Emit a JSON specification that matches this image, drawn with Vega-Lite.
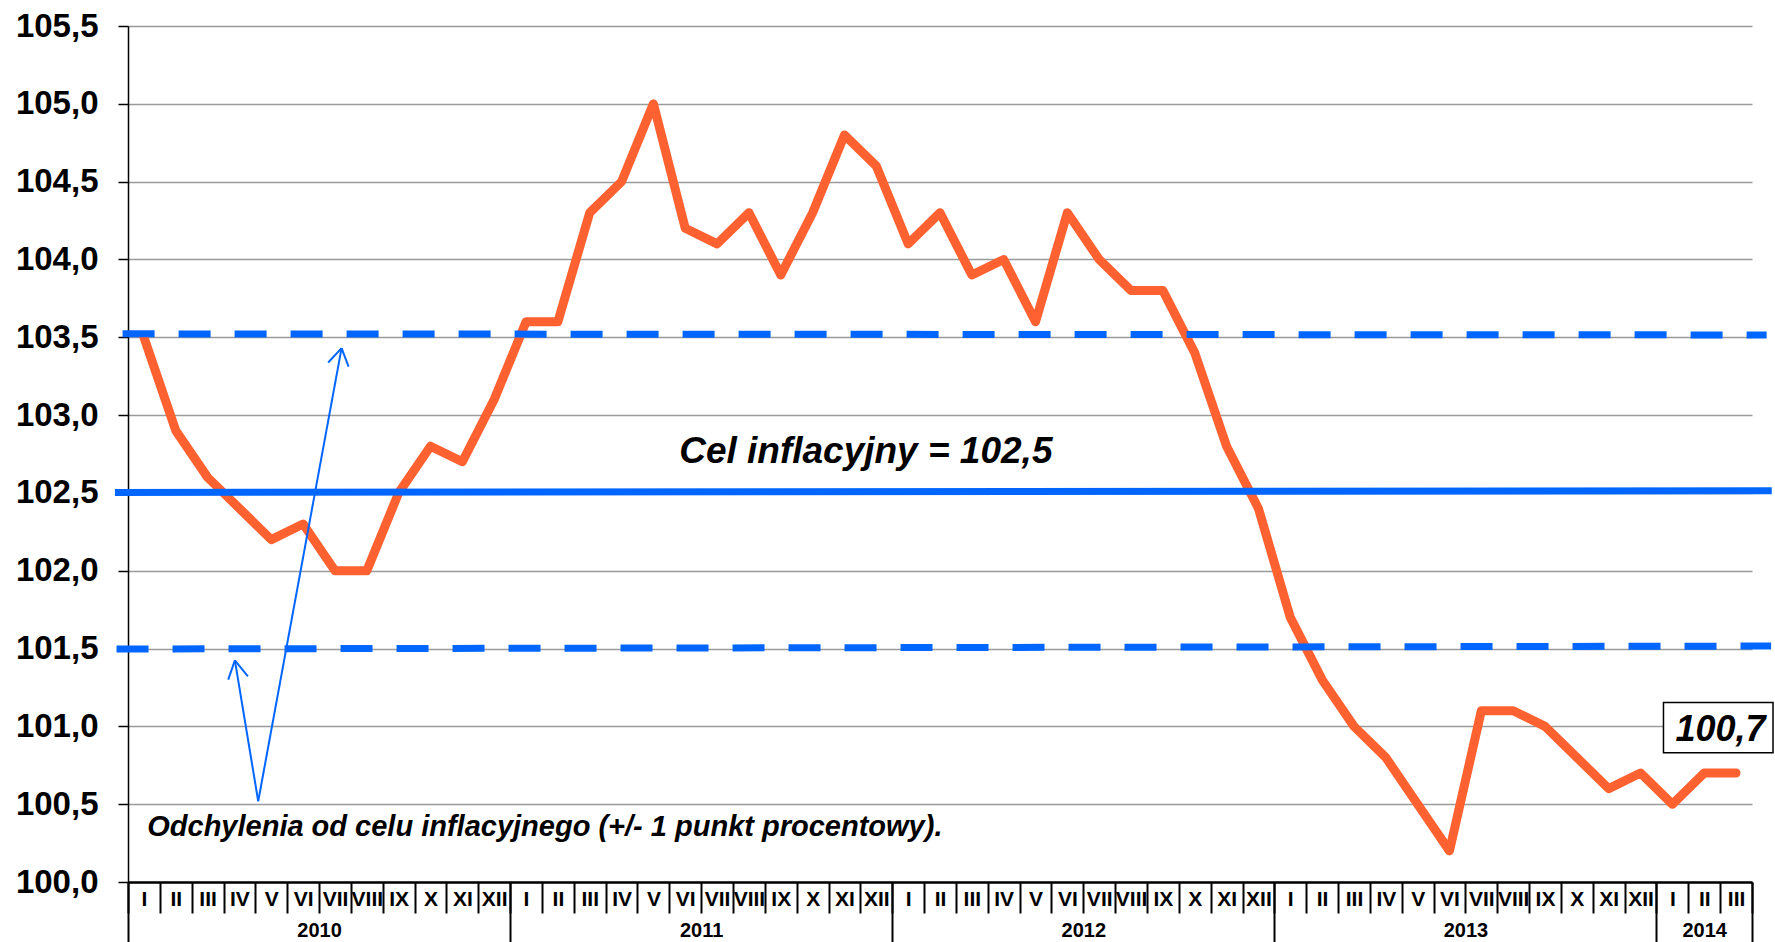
{
  "$schema": "https://vega.github.io/schema/vega-lite/v6.json",
  "width": 1624,
  "height": 856,
  "autosize": {"type": "none"},
  "padding": {"left": 128, "top": 26, "right": 23, "bottom": 60},
  "background": "white",
  "config": {"view": {"stroke": null}},
  "resolve": {"axis": {"x": "independent", "y": "independent"}},
  "layer": [
    {
      "data": {"values": [
        {"i": 0, "m": "2010-01", "v": 103.5}, {"i": 1, "m": "2010-02", "v": 102.9}, {"i": 2, "m": "2010-03", "v": 102.6},
        {"i": 3, "m": "2010-04", "v": 102.4}, {"i": 4, "m": "2010-05", "v": 102.2}, {"i": 5, "m": "2010-06", "v": 102.3},
        {"i": 6, "m": "2010-07", "v": 102.0}, {"i": 7, "m": "2010-08", "v": 102.0}, {"i": 8, "m": "2010-09", "v": 102.5},
        {"i": 9, "m": "2010-10", "v": 102.8}, {"i": 10, "m": "2010-11", "v": 102.7}, {"i": 11, "m": "2010-12", "v": 103.1},
        {"i": 12, "m": "2011-01", "v": 103.6}, {"i": 13, "m": "2011-02", "v": 103.6}, {"i": 14, "m": "2011-03", "v": 104.3},
        {"i": 15, "m": "2011-04", "v": 104.5}, {"i": 16, "m": "2011-05", "v": 105.0}, {"i": 17, "m": "2011-06", "v": 104.2},
        {"i": 18, "m": "2011-07", "v": 104.1}, {"i": 19, "m": "2011-08", "v": 104.3}, {"i": 20, "m": "2011-09", "v": 103.9},
        {"i": 21, "m": "2011-10", "v": 104.3}, {"i": 22, "m": "2011-11", "v": 104.8}, {"i": 23, "m": "2011-12", "v": 104.6},
        {"i": 24, "m": "2012-01", "v": 104.1}, {"i": 25, "m": "2012-02", "v": 104.3}, {"i": 26, "m": "2012-03", "v": 103.9},
        {"i": 27, "m": "2012-04", "v": 104.0}, {"i": 28, "m": "2012-05", "v": 103.6}, {"i": 29, "m": "2012-06", "v": 104.3},
        {"i": 30, "m": "2012-07", "v": 104.0}, {"i": 31, "m": "2012-08", "v": 103.8}, {"i": 32, "m": "2012-09", "v": 103.8},
        {"i": 33, "m": "2012-10", "v": 103.4}, {"i": 34, "m": "2012-11", "v": 102.8}, {"i": 35, "m": "2012-12", "v": 102.4},
        {"i": 36, "m": "2013-01", "v": 101.7}, {"i": 37, "m": "2013-02", "v": 101.3}, {"i": 38, "m": "2013-03", "v": 101.0},
        {"i": 39, "m": "2013-04", "v": 100.8}, {"i": 40, "m": "2013-05", "v": 100.5}, {"i": 41, "m": "2013-06", "v": 100.2},
        {"i": 42, "m": "2013-07", "v": 101.1}, {"i": 43, "m": "2013-08", "v": 101.1}, {"i": 44, "m": "2013-09", "v": 101.0},
        {"i": 45, "m": "2013-10", "v": 100.8}, {"i": 46, "m": "2013-11", "v": 100.6}, {"i": 47, "m": "2013-12", "v": 100.7},
        {"i": 48, "m": "2014-01", "v": 100.5}, {"i": 49, "m": "2014-02", "v": 100.7}, {"i": 50, "m": "2014-03", "v": 100.7}
      ]},
      "mark": {"type": "line", "color": "#FF6131", "strokeWidth": 9, "strokeJoin": "round", "strokeCap": "round"},
      "encoding": {
        "x": {
          "field": "i", "type": "quantitative",
          "scale": {"domain": [-0.5, 50.5], "nice": false, "zero": false},
          "axis": {
            "orient": "bottom", "title": null, "grid": false,
            "values": [-0.5, 0.5, 1.5, 2.5, 3.5, 4.5, 5.5, 6.5, 7.5, 8.5, 9.5, 10.5, 11.5, 12.5, 13.5, 14.5, 15.5, 16.5, 17.5, 18.5, 19.5, 20.5, 21.5, 22.5, 23.5, 24.5, 25.5, 26.5, 27.5, 28.5, 29.5, 30.5, 31.5, 32.5, 33.5, 34.5, 35.5, 36.5, 37.5, 38.5, 39.5, 40.5, 41.5, 42.5, 43.5, 44.5, 45.5, 46.5, 47.5, 48.5, 49.5, 50.5],
            "domain": true, "domainColor": "black", "domainWidth": 2.5,
            "ticks": true, "tickColor": "black", "tickWidth": 2, "tickSize": 31,
            "labelExpr": "datum.value > 50 ? '' : ['I','II','III','IV','V','VI','VII','VIII','IX','X','XI','XII'][round(datum.value + 0.5) % 12]",
            "labelOffset": 15.92, "labelPadding": -14, "labelBaseline": "middle", "labelAlign": "center",
            "labelFont": "Liberation Sans Narrow, Arial Narrow, Liberation Sans", "labelFontWeight": "bold", "labelFontSize": 21, "labelColor": "black",
            "labelOverlap": false, "labelFlush": false, "labelBound": false
          }
        },
        "y": {
          "field": "v", "type": "quantitative",
          "scale": {"domain": [100, 105.5], "nice": false, "zero": false},
          "axis": {
            "orient": "left", "title": null,
            "values": [100, 100.5, 101, 101.5, 102, 102.5, 103, 103.5, 104, 104.5, 105, 105.5],
            "grid": true, "gridColor": "#9a9a9a", "gridWidth": 1.5,
            "domainColor": "black", "domainWidth": 1.5,
            "tickColor": "black", "tickWidth": 1.5, "tickSize": 10,
            "labelPadding": 20, "labelFont": "Liberation Sans", "labelFontWeight": "bold", "labelFontSize": 33, "labelColor": "black",
            "labelExpr": "replace(format(datum.value, '.1f'), '.', ',')",
            "labelOverlap": false, "labelFlush": false, "labelBound": false
          }
        }
      }
    },
    {
      "data": {"values": [{"x": -0.91, "x2": 51.12, "y": 102.503, "y2": 102.514}]},
      "mark": {"type": "rule", "color": "#0066FF", "strokeWidth": 7},
      "encoding": {
        "x": {
          "field": "x", "type": "quantitative",
          "scale": {"domain": [-0.5, 50.5], "nice": false, "zero": false},
          "axis": {
            "orient": "bottom", "title": null, "grid": false, "domain": false,
            "ticks": false, "tickSize": 0,
            "values": [5.5, 17.5, 29.5, 41.5, 49],
            "labelExpr": "datum.value < 11.5 ? '2010' : datum.value < 23.5 ? '2011' : datum.value < 35.5 ? '2012' : datum.value < 47.5 ? '2013' : '2014'",
            "labelPadding": 48, "labelBaseline": "middle", "labelAlign": "center",
            "labelFont": "Liberation Sans", "labelFontWeight": "bold", "labelFontSize": 20, "labelColor": "black",
            "labelOverlap": false, "labelFlush": false, "labelBound": false
          }
        },
        "x2": {"field": "x2"},
        "y": {"field": "y", "type": "quantitative", "scale": {"domain": [100, 105.5], "nice": false, "zero": false}, "axis": null},
        "y2": {"field": "y2"}
      }
    },
    {
      "data": {"values": [
        {"x": -0.67, "x2": 50.96, "y": 103.522, "y2": 103.515},
        {"x": -0.86, "x2": 51.1, "y": 101.497, "y2": 101.516}
      ]},
      "mark": {"type": "rule", "color": "#0066FF", "strokeWidth": 7, "strokeDash": [32, 24]},
      "encoding": {
        "x": {
          "field": "x", "type": "quantitative",
          "scale": {"domain": [-0.5, 50.5], "nice": false, "zero": false},
          "axis": {
            "orient": "bottom", "title": null, "grid": false, "domain": false, "labels": false,
            "values": [-0.5, 11.5, 23.5, 35.5, 47.5, 50.5],
            "ticks": true, "tickSize": 60, "tickWidth": 2, "tickColor": "black"
          }
        },
        "x2": {"field": "x2"},
        "y": {"field": "y", "type": "quantitative", "scale": {"domain": [100, 105.5], "nice": false, "zero": false}, "axis": null},
        "y2": {"field": "y2"}
      }
    },
    {
      "data": {"values": [
        {"x": 3.589, "y": 100.519, "x2": 2.857, "y2": 101.424},
        {"x": 3.589, "y": 100.519, "x2": 6.207, "y2": 103.430},
        {"x": 2.857, "y": 101.424, "x2": 2.647, "y2": 101.300},
        {"x": 2.857, "y": 101.424, "x2": 3.265, "y2": 101.321},
        {"x": 6.207, "y": 103.430, "x2": 5.787, "y2": 103.338},
        {"x": 6.207, "y": 103.430, "x2": 6.427, "y2": 103.312}
      ]},
      "mark": {"type": "rule", "color": "#0066FF", "strokeWidth": 2},
      "encoding": {
        "x": {"field": "x", "type": "quantitative", "scale": {"domain": [-0.5, 50.5], "nice": false, "zero": false}, "axis": null},
        "x2": {"field": "x2"},
        "y": {"field": "y", "type": "quantitative", "scale": {"domain": [100, 105.5], "nice": false, "zero": false}, "axis": null},
        "y2": {"field": "y2"}
      }
    },
    {
      "data": {"values": [{"x": 22.67, "y": 102.692, "t": "Cel inflacyjny = 102,5"}]},
      "mark": {"type": "text", "font": "Liberation Sans", "fontWeight": "bold", "fontStyle": "italic", "fontSize": 37, "align": "center", "baseline": "alphabetic", "color": "black"},
      "encoding": {
        "x": {"field": "x", "type": "quantitative", "scale": {"domain": [-0.5, 50.5], "nice": false, "zero": false}, "axis": null},
        "y": {"field": "y", "type": "quantitative", "scale": {"domain": [100, 105.5], "nice": false, "zero": false}, "axis": null},
        "text": {"field": "t"}
      }
    },
    {
      "data": {"values": [{"x": 0.104, "y": 100.294, "t": "Odchylenia od celu inflacyjnego (+/- 1 punkt procentowy)."}]},
      "mark": {"type": "text", "font": "Liberation Sans", "fontWeight": "bold", "fontStyle": "italic", "fontSize": 29, "align": "left", "baseline": "alphabetic", "color": "black"},
      "encoding": {
        "x": {"field": "x", "type": "quantitative", "scale": {"domain": [-0.5, 50.5], "nice": false, "zero": false}, "axis": null},
        "y": {"field": "y", "type": "quantitative", "scale": {"domain": [100, 105.5], "nice": false, "zero": false}, "axis": null},
        "text": {"field": "t"}
      }
    },
    {
      "data": {"values": [{"x": 47.72, "x2": 51.16, "y": 100.830, "y2": 101.154}]},
      "mark": {"type": "rect", "fill": "white", "stroke": "black", "strokeWidth": 1.5},
      "encoding": {
        "x": {"field": "x", "type": "quantitative", "scale": {"domain": [-0.5, 50.5], "nice": false, "zero": false}, "axis": null},
        "x2": {"field": "x2"},
        "y": {"field": "y", "type": "quantitative", "scale": {"domain": [100, 105.5], "nice": false, "zero": false}, "axis": null},
        "y2": {"field": "y2"}
      }
    },
    {
      "data": {"values": [{"x": 49.51, "y": 100.904, "t": "100,7"}]},
      "mark": {"type": "text", "font": "Liberation Sans", "fontWeight": "bold", "fontStyle": "italic", "fontSize": 36, "align": "center", "baseline": "alphabetic", "color": "black"},
      "encoding": {
        "x": {"field": "x", "type": "quantitative", "scale": {"domain": [-0.5, 50.5], "nice": false, "zero": false}, "axis": null},
        "y": {"field": "y", "type": "quantitative", "scale": {"domain": [100, 105.5], "nice": false, "zero": false}, "axis": null},
        "text": {"field": "t"}
      }
    }
  ]
}
